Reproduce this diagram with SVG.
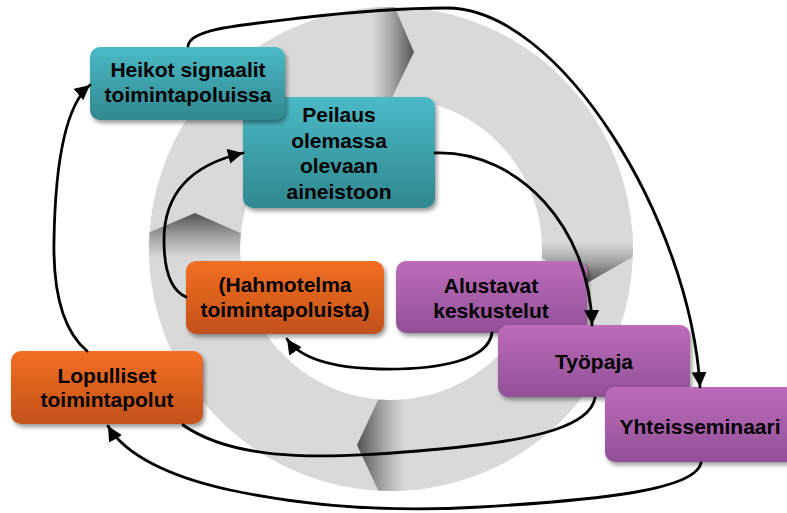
<svg xmlns="http://www.w3.org/2000/svg" width="787" height="513" viewBox="0 0 787 513">
  <defs>
    <style>
      .box { stroke: none; filter: url(#shadow); }
      .teal { fill: url(#gTeal); }
      .orange { fill: url(#gOrange); }
      .purple { fill: url(#gPurple); }
      .label { font-family: "Liberation Sans", Arial, sans-serif; font-weight: bold; font-size: 21px; fill: #000; text-anchor: middle; }
      .link { fill: none; stroke: #000; stroke-width: 2.8; stroke-linecap: round; }
      .arrow { marker-end: url(#head); }
    </style>
    <linearGradient id="gTeal" x1="0" y1="0" x2="0" y2="1">
      <stop offset="0" stop-color="#4bbac7"/>
      <stop offset="1" stop-color="#30878f"/>
    </linearGradient>
    <linearGradient id="gOrange" x1="0" y1="0" x2="0" y2="1">
      <stop offset="0" stop-color="#f36f22"/>
      <stop offset="1" stop-color="#c2511a"/>
    </linearGradient>
    <linearGradient id="gPurple" x1="0" y1="0" x2="0" y2="1">
      <stop offset="0" stop-color="#bd6cba"/>
      <stop offset="1" stop-color="#915097"/>
    </linearGradient>
    <!-- shading behind each chevron of the ring -->
    <linearGradient id="shTop" gradientUnits="userSpaceOnUse" x1="372" y1="0" x2="414" y2="0">
      <stop offset="0" stop-color="#d9d9d9"/>
      <stop offset="0.45" stop-color="#a8a8a8"/>
      <stop offset="1" stop-color="#555"/>
    </linearGradient>
    <linearGradient id="shLeft" gradientUnits="userSpaceOnUse" x1="0" y1="214" x2="0" y2="258">
      <stop offset="0" stop-color="#555"/>
      <stop offset="0.55" stop-color="#a8a8a8"/>
      <stop offset="1" stop-color="#d9d9d9"/>
    </linearGradient>
    <linearGradient id="shBottom" gradientUnits="userSpaceOnUse" x1="358" y1="0" x2="405" y2="0">
      <stop offset="0" stop-color="#555"/>
      <stop offset="0.55" stop-color="#a8a8a8"/>
      <stop offset="1" stop-color="#d9d9d9"/>
    </linearGradient>
    <linearGradient id="shRight" gradientUnits="userSpaceOnUse" x1="0" y1="242" x2="0" y2="282">
      <stop offset="0" stop-color="#d9d9d9"/>
      <stop offset="0.45" stop-color="#a8a8a8"/>
      <stop offset="1" stop-color="#555"/>
    </linearGradient>
    <clipPath id="ringClip">
      <path clip-rule="evenodd" d="M391,7 A242,242 0 1 1 390.9,7 Z M391,98 A151,151 0 1 0 391.1,98 Z"/>
    </clipPath>
    <filter id="shadow" x="-10%" y="-10%" width="125%" height="135%">
      <feDropShadow dx="2" dy="3" stdDeviation="2.2" flood-color="#000" flood-opacity="0.4"/>
    </filter>
    <marker id="head" markerUnits="userSpaceOnUse" markerWidth="16" markerHeight="16" refX="15" refY="7.5" orient="auto">
      <path d="M0,0 L15,7.5 L0,15 Z" fill="#000"/>
    </marker>
  </defs>

  <rect width="787" height="513" fill="#fff"/>

  <!-- circular arrow ring -->
  <g id="ring" clip-path="url(#ringClip)">
    <rect x="140" y="0" width="510" height="500" fill="#d9d9d9"/>
    <polygon points="340,0 391.5,0 414,52 386,110 340,110" fill="url(#shTop)"/>
    <polygon points="130,240.7 195,213 260,241.9 260,280 130,280" fill="url(#shLeft)"/>
    <polygon points="382.7,390 357,445 382.7,500 430,500 430,390" fill="url(#shBottom)"/>
    <polygon points="530,230 650,230 650,247 587,283 530,251.5" fill="url(#shRight)"/>
  </g>

  <g id="peilaus">
    <rect class="box teal" x="243" y="97" width="192" height="111" rx="10"/>
    <text class="label" x="339" y="122">Peilaus</text>
    <text class="label" x="339" y="148">olemassa</text>
    <text class="label" x="339" y="173">olevaan</text>
    <text class="label" x="339" y="199">aineistoon</text>
  </g>

  <g id="heikot">
    <rect class="box teal" x="90" y="47" width="195" height="73" rx="10"/>
    <text class="label" x="188" y="77">Heikot signaalit</text>
    <text class="label" x="188" y="102">toimintapoluissa</text>
  </g>

  <g id="hahmotelma">
    <rect class="box orange" x="186" y="261" width="198" height="73" rx="10"/>
    <text class="label" x="285" y="292">(Hahmotelma</text>
    <text class="label" x="285" y="317">toimintapoluista)</text>
  </g>

  <g id="lopulliset">
    <rect class="box orange" x="11" y="351" width="192" height="73" rx="10"/>
    <text class="label" x="107" y="383">Lopulliset</text>
    <text class="label" x="107" y="407">toimintapolut</text>
  </g>

  <g id="alustavat">
    <rect class="box purple" x="396" y="261" width="191" height="72" rx="10"/>
    <text class="label" x="491" y="293">Alustavat</text>
    <text class="label" x="491" y="318">keskustelut</text>
  </g>

  <g id="tyopaja">
    <rect class="box purple" x="498" y="325" width="192" height="72" rx="10"/>
    <text class="label" x="594" y="369">Työpaja</text>
  </g>

  <g id="yhteisseminaari">
    <rect class="box purple" x="605" y="387" width="192" height="75" rx="10"/>
    <text class="label" x="700" y="434">Yhteisseminaari</text>
  </g>

  <g id="connectors">
    <path class="link arrow" d="M188,46 C190,30 230,26 300,18 C360,11 400,8 447,8 C560,8 690,220 700,387"/>
    <path class="link arrow" d="M435,153 C520,150 590,230 592,325"/>
    <path class="link arrow" d="M492,333 C488,360 440,370 380,369 C330,368 300,358 287,339"/>
    <path class="link arrow" d="M186,297 C170,290 164,270 164,240 C164,195 190,165 243,153"/>
    <path class="link" d="M595,398 C590,425 540,440 440,449 C340,458 240,465 183,425"/>
    <path class="link arrow" d="M701,463 C695,490 600,500 480,507 C380,513 300,505 230,490 C170,477 125,455 108,426"/>
    <path class="link arrow" d="M87,351 C62,330 53,290 54,240 C55,180 62,108 90,85"/>
  </g>
</svg>
